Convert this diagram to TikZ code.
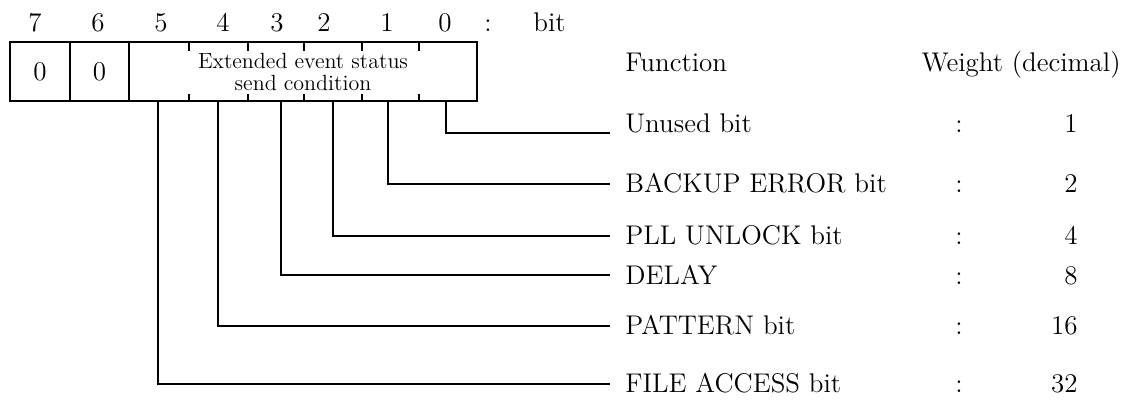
\documentclass[tikz,border=0pt]{standalone}
\usepackage{tikz}
\usetikzlibrary{positioning}

\newcommand{\mainsize}{\fontsize{13.5}{15}\selectfont}
\newcommand{\boxsize}{\fontsize{11}{11}\selectfont}

\tikzset{
    cellbox/.style={draw, line width=0.9pt, inner sep=0pt, minimum height=29.5pt, font=\mainsize},
    bitnum/.style={anchor=base, inner sep=0pt, font=\mainsize},
    fnlabel/.style={anchor=base west, inner xsep=7.5pt, inner ysep=0pt, font=\mainsize},
    weight/.style={anchor=base east, inner sep=0pt, font=\mainsize},
    sep/.style={anchor=base, inner sep=0pt, font=\mainsize},
    leader/.style={line width=0.9pt}
}

\begin{document}
\begin{tikzpicture}[x=0.5pt, y=-0.5pt]
    \useasboundingbox (0,0) rectangle (1126,401);

    % Register cells
    \node[cellbox, minimum width=30pt] (c7) at (40,71.5) {0};
    \node[cellbox, minimum width=29.5pt] (c6) at (99.5,71.5) {0};
    \node[cellbox, minimum width=174pt, align=center, font=\boxsize] (ext) at (303,71.5)
        {Extended event status\\send condition};

    % Ticks between bits
    \foreach \x in {189,248,304,362,419} {
        \draw[line width=0.7pt] (\x,42) -- (\x,51);
        \draw[line width=0.7pt] (\x,101) -- (\x,94);
    }

    % Bit numbers
    \node[bitnum] (n7) at (35,32) {7};
    \node[bitnum] (n6) at (98,32) {6};
    \node[bitnum] (n5) at (161,32) {5};
    \node[bitnum] (n4) at (223,32) {4};
    \node[bitnum] (n3) at (277,32) {3};
    \node[bitnum] (n2) at (324,32) {2};
    \node[bitnum] (n1) at (387,32) {1};
    \node[bitnum] (n0) at (445,32) {0};
    \node[bitnum] (ncolon) at (488,32) {:};
    \node[bitnum, anchor=base west] (nbit) at (533,32) {bit};

    % Headers
    \node[anchor=base west, inner sep=0pt, font=\mainsize] (fhead) at (625,72) {Function};
    \node[anchor=base east, inner sep=0pt, font=\mainsize] (whead) at (1121,72) {Weight (decimal)};

    % Bit outputs
    \coordinate (b0) at (446,101);
    \coordinate (b1) at (388,101);
    \coordinate (b2) at (333,101);
    \coordinate (b3) at (281,101);
    \coordinate (b4) at (218,101);
    \coordinate (b5) at (158,101);

    % Functions
    \node[fnlabel] (f0) at (610,133) {Unused bit};
    \node[fnlabel] (f1) at (610,193) {BACKUP ERROR bit};
    \node[fnlabel] (f2) at (610,245) {PLL UNLOCK bit};
    \node[fnlabel] (f3) at (610,285) {DELAY};
    \node[fnlabel] (f4) at (610,335) {PATTERN bit};
    \node[fnlabel] (f5) at (610,393) {FILE ACCESS bit};

    % Weights
    \node[sep] (k0) at (959,133) {:};
    \node[sep] (k1) at (959,193) {:};
    \node[sep] (k2) at (959,245) {:};
    \node[sep] (k3) at (959,285) {:};
    \node[sep] (k4) at (959,335) {:};
    \node[sep] (k5) at (959,393) {:};
    \node[weight] (w0) at (1078,133) {1};
    \node[weight] (w1) at (1078,193) {2};
    \node[weight] (w2) at (1078,245) {4};
    \node[weight] (w3) at (1078,285) {8};
    \node[weight] (w4) at (1078,335) {16};
    \node[weight] (w5) at (1078,393) {32};

    % Leaders
    \draw[leader] (b0) |- (f0.base west);
    \draw[leader] (b1) |- (f1.west);
    \draw[leader] (b2) |- (f2.west);
    \draw[leader] (b3) |- (f3.west);
    \draw[leader] (b4) |- (f4.west);
    \draw[leader] (b5) |- (f5.west);
\end{tikzpicture}
\end{document}
